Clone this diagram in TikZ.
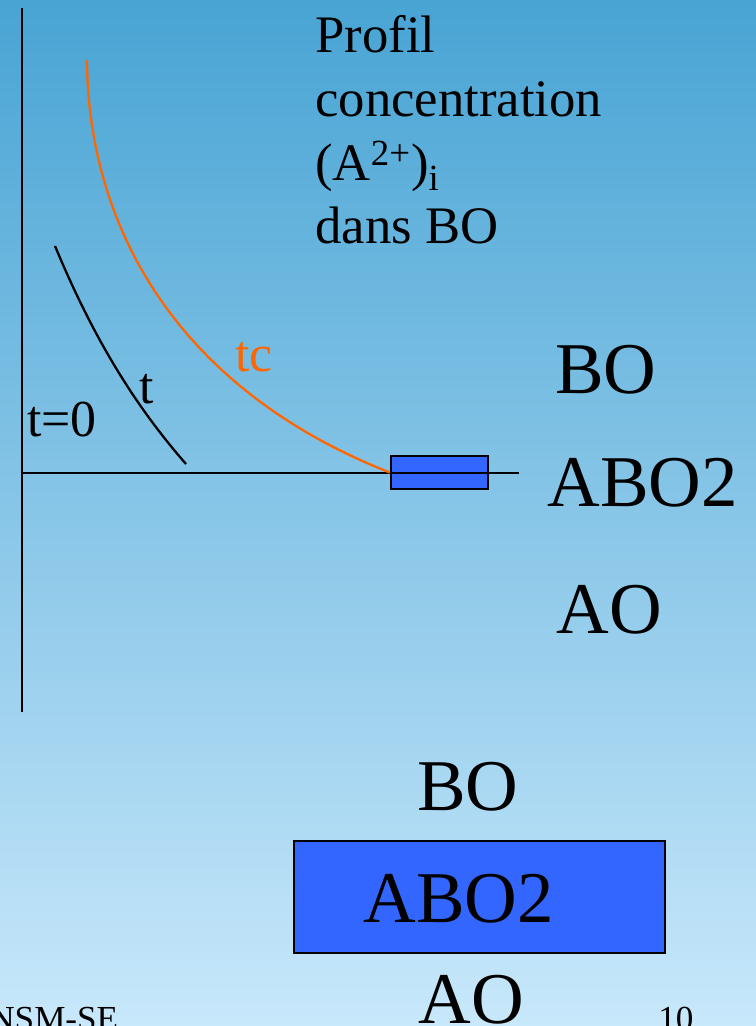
\documentclass[tikz,border=0pt]{standalone}
\usepackage{fontspec}
\setmainfont{Liberation Serif}
\definecolor{bgtop}{RGB}{72,164,212}
\definecolor{bgmid}{RGB}{160,210,238}
\definecolor{bgbot}{RGB}{200,232,251}
\definecolor{tcorange}{RGB}{255,102,0}
\definecolor{layerblue}{RGB}{51,102,255}
\begin{document}
\begin{tikzpicture}[x=0.02cm, y=-0.02cm,
    axis/.style={line width=1.4pt},
    profile/.style={line width=1.3pt},
    label/.style={inner sep=0pt, anchor=base west, font=\fontsize{29.5}{35}\selectfont},
    biglabel/.style={inner sep=0pt, anchor=base west, font=\fontsize{41.5}{50}\selectfont},
    footer/.style={inner sep=0pt, anchor=base west, font=\fontsize{20}{24}\selectfont},
    layerbox/.style={draw, line width=1.4pt, fill=layerblue}]
    % background of the slide
    \shade[top color=bgtop, middle color=bgmid, bottom color=bgbot] (0,0) rectangle (756,1026);
    \useasboundingbox (0,0) rectangle (756,1026);

    % axes and thin ABO2 layer
    \coordinate (ytop) at (22,8);
    \coordinate (ybot) at (22,712);
    \coordinate (xleft) at (22,473);
    \coordinate (xright) at (519,473);
    \node (thinlayer) [layerbox, minimum width=1.94cm, minimum height=0.66cm, inner sep=0pt] at (439.5,472.5) {};
    \draw [axis] (ytop) -- (ybot);
    \draw [axis] (xleft) -- (xright);

    % concentration profiles
    \coordinate (tstart) at (55,246);
    \coordinate (tend) at (186,464);
    \draw [profile] (tstart) .. controls (90,330) and (130,400) .. (tend);
    \coordinate (tcstart) at (87,60);
    \draw [profile, tcorange] (tcstart) .. controls (88,230) and (180,390) .. (thinlayer.west);

    \node (tzero) [label] at (27,437) {t=0};
    \node (tlabel) [label] at (139,403) {t};
    \node (tclabel) [label, text=tcorange] at (235,372) {tc};
    \node (zeroleft) [label, anchor=base east] at (3,537) {0};

    % title of the profile
    \node (prof1) [label, font=\fontsize{30}{36}\selectfont] at (315,53) {Profil};
    \node (prof2) [label, font=\fontsize{30}{36}\selectfont] at (315,117) {concentration};
    \node (prof3) [label, font=\fontsize{30}{36}\selectfont] at (315,181) {(A\textsuperscript{2+})\textsubscript{i}};
    \node (prof4) [label, font=\fontsize{30}{36}\selectfont] at (315,244) {dans BO};

    % layers on the right
    \node (boR) [biglabel] at (555,394) {BO};
    \node (abo2R) [biglabel] at (547,506) {ABO2};
    \node (aoR) [biglabel] at (556,633) {AO};

    % layers at the bottom
    \node (boB) [biglabel] at (417,810) {BO};
    \node (thicklayer) [layerbox, minimum width=7.42cm, minimum height=2.24cm, inner sep=0pt] at (479.5,897) {};
    \node (abo2B) [biglabel] at (363,922) {ABO2};
    \node (aoB) [biglabel] at (418,1023) {AO};

    % footer
    \node (school) [footer] at (-11,1030) {NSM-SE};
    \node (pagenum) [footer] at (658,1030) {10};
\end{tikzpicture}
\end{document}
